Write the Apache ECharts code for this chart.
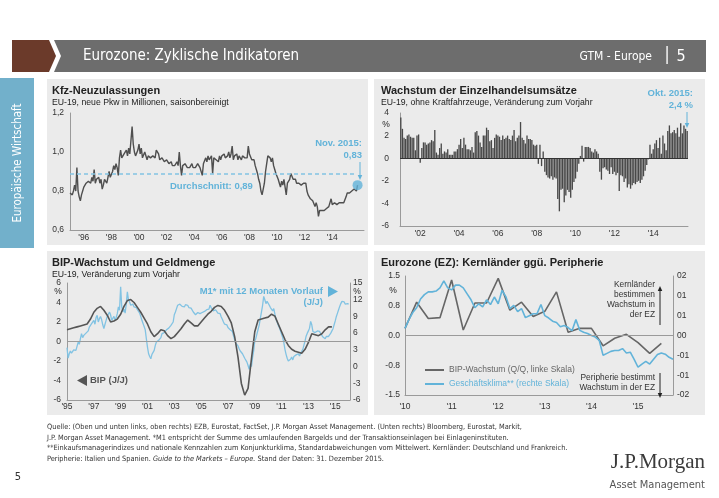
<!DOCTYPE html>
<html><head><meta charset="utf-8">
<script src="https://cdn.jsdelivr.net/npm/echarts@6/dist/echarts.min.js"></script>
<style>html,body{margin:0;padding:0;background:#fff;}#c{width:719px;height:498px;}</style>
</head><body><div id="c"></div>
<script>
// ---------- DATA ----------
// Kfz-Neuzulassungen, monthly Jan 1995 - Nov 2015 (Mio.)
const kfzStart = 1995;
const kfzValues = [
0.79,0.78,0.78,0.80,0.83,0.80,0.92,0.80,0.77,0.75,0.78,0.80,
0.82,0.83,0.84,0.83,0.85,0.86,0.84,0.87,0.85,0.91,0.84,0.86,
0.85,0.87,0.84,0.86,0.81,0.83,0.86,0.85,0.84,0.87,0.90,0.87,
0.86,0.90,0.93,0.91,0.94,0.92,0.88,0.97,1.01,0.97,0.98,0.99,
0.98,1.01,0.98,1.02,0.99,1.00,1.13,1.04,1.00,0.98,0.97,1.01,
1.04,0.99,1.02,0.97,0.96,1.00,1.01,0.96,0.98,0.99,0.97,0.96,
0.98,0.99,0.97,1.01,1.00,0.99,0.96,0.95,0.97,0.96,0.95,0.95,
0.96,0.95,0.94,0.94,0.95,0.93,0.94,0.93,0.92,0.95,0.93,1.00,
0.93,0.88,0.93,0.92,0.94,0.93,0.92,0.93,0.92,0.93,0.94,0.92,
0.93,0.92,0.93,0.94,0.93,0.92,0.93,0.88,0.94,0.95,0.97,0.95,
0.98,0.96,0.95,0.98,0.89,0.97,0.98,0.96,0.97,0.95,0.98,0.96,
0.98,0.97,0.99,0.97,0.96,0.98,1.00,0.97,0.99,1.03,0.96,0.98,
0.97,0.99,0.96,0.98,0.97,0.96,0.98,0.99,0.97,0.98,0.97,1.03,
0.99,0.98,0.96,0.95,0.96,0.93,0.91,0.89,0.86,0.84,0.80,0.78,
0.79,0.84,0.90,0.94,0.98,0.99,0.97,0.95,0.97,0.93,0.91,0.89,
0.90,0.86,0.84,0.82,0.85,0.83,0.86,0.82,0.78,0.84,0.85,0.86,
0.89,0.88,0.86,0.85,0.86,0.84,0.85,0.84,0.84,0.83,0.84,0.84,
0.83,0.84,0.80,0.78,0.79,0.76,0.77,0.75,0.74,0.72,0.74,0.72,
0.67,0.70,0.69,0.70,0.71,0.70,0.71,0.71,0.72,0.72,0.72,0.76,
0.73,0.73,0.74,0.74,0.73,0.74,0.74,0.74,0.74,0.75,0.74,0.75,
0.77,0.79,0.79,0.79,0.80,0.80,0.80,0.81,0.81,0.80,0.83];
const kfzAverage = 0.89;
const kfzYearTicks = [1996,1998,2000,2002,2004,2006,2008,2010,2012,2014];

// Einzelhandelsumsätze, monthly Jan 2001 - Oct 2015 (% J/J)
const retailStartYear = 2001;
const retailValues = [
3.6,2.6,1.8,1.7,2.0,2.1,1.9,1.8,1.8,0.7,2.0,2.1,
-0.4,0.9,1.4,1.4,1.2,1.3,1.4,1.6,1.5,2.5,0.5,0.3,
0.9,1.3,0.4,0.6,0.5,0.8,0.3,0.3,0.3,0.6,0.6,0.8,
1.2,1.7,0.9,1.8,1.2,0.8,0.8,0.7,1.0,0.5,2.3,2.4,
2.0,1.4,1.0,2.0,2.0,2.7,2.5,1.5,1.6,0.9,1.8,2.1,
2.0,1.9,1.6,2.0,1.7,1.8,2.0,1.7,1.6,2.0,2.5,1.5,
1.8,2.0,3.2,1.8,1.6,1.3,2.0,1.7,1.7,1.6,1.2,1.1,
1.2,-0.5,1.2,-0.7,0.6,-1.2,-1.5,-1.7,-1.8,-1.6,-1.9,-1.7,
-1.8,-3.6,-4.7,-2.8,-2.7,-3.9,-3.3,-2.8,-3.0,-3.5,-2.8,-2.1,
-1.8,-1.2,-0.5,0.2,1.1,-0.3,1.0,1.0,1.0,0.9,0.6,0.5,
0.8,0.6,0.4,-1.2,-1.9,-0.9,-0.8,-1.0,-1.1,-1.4,-0.8,-1.4,
-1.2,-1.5,-1.3,-2.9,-1.5,-1.6,-2.1,-1.8,-2.6,-2.3,-2.7,-2.4,
-2.2,-2.3,-2.1,-2.0,-2.2,-1.9,-1.6,-1.1,-0.6,-0.1,1.2,0.4,
0.8,1.3,1.6,0.9,1.8,0.4,2.0,1.3,0.7,2.4,2.9,2.2,
2.3,2.5,2.2,2.7,1.9,3.1,2.2,2.9,2.6,2.4];

// BIP J/J, quarterly 1995 Q1 - 2014 Q4 (linke Skala)
const bipStart = 1995;
const bipValues = [
1.2,1.3,1.4,1.5, 1.6,1.7,1.8,2.3, 3.0,3.4,3.6,3.2, 2.7,2.0,2.1,2.3,
2.8,3.6,4.2,4.3, 4.0,3.5,3.0,2.4, 1.8,1.0,0.5,0.8, 1.2,1.1,0.6,0.3,
0.5,0.9,1.3,1.8, 2.2,1.9,1.6,1.6, 2.0,2.4,2.8,3.1, 3.5,3.7,3.6,3.2,
2.6,1.9,0.5,-1.6, -4.3,-5.5,-4.8,-1.8, 1.0,2.2,2.3,2.4, 2.5,2.8,2.6,1.8,
1.0,0.2,-0.4,-0.8, -1.0,-1.1,-1.2,-0.8, -0.1,0.8,0.7,0.6, 0.8,1.2,1.5,1.5];

// M1 J/J mit 12 Monaten Vorlauf, monthly 1995 - Jan 2016 (rechte Skala)
const m1Start = 1995;
const m1Values = [
3.4,1.5,2.3,2.8,2.4,2.6,3.0,2.7,2.9,3.2,4.4,4.0,
5.0,5.9,5.2,5.6,5.4,6.0,5.7,6.4,7.1,6.8,7.7,7.4,
8.3,7.6,8.8,9.2,8.0,8.6,9.0,8.4,7.5,6.8,7.6,8.3,
9.0,8.7,9.8,9.3,8.3,8.0,9.0,8.4,8.8,9.5,10.7,10.1,
14.3,10.7,9.8,10.3,9.6,11.2,13.4,12.0,11.6,11.0,10.8,11.2,
10.7,10.4,10.6,10.2,10.3,9.6,9.0,8.3,8.0,7.2,6.6,5.0,
3.5,2.3,1.8,1.4,2.2,1.9,2.9,3.8,4.4,4.2,4.7,4.9,
5.2,5.9,5.6,6.1,6.3,6.6,6.3,6.9,7.1,7.4,7.1,8.0,
9.3,9.8,10.4,11.0,10.7,11.2,10.9,10.8,11.0,10.7,11.1,10.8,
11.0,10.6,10.8,10.5,10.3,9.8,9.6,9.3,9.2,9.7,9.4,9.5,
9.3,9.7,9.5,9.9,10.0,10.2,10.5,10.3,11.0,10.6,10.4,10.0,
9.8,10.2,9.9,9.6,9.4,9.5,8.9,8.5,8.0,7.6,7.3,7.5,
7.0,6.8,6.6,6.9,6.3,5.5,4.8,4.2,3.9,3.7,3.2,2.8,
2.5,2.3,2.1,1.5,1.2,0.8,0.2,-0.5,0.5,0.0,1.6,2.8,
4.6,5.1,5.9,6.7,7.5,8.7,9.8,11.0,12.6,12.0,11.3,11.7,
11.4,11.0,10.6,10.3,10.0,10.4,9.4,8.5,8.0,7.4,7.0,6.4,
5.8,5.2,4.3,3.1,2.2,1.5,1.0,0.9,1.3,1.7,1.2,1.8,
1.5,2.1,1.8,2.3,1.9,2.4,2.2,3.1,3.3,4.6,5.5,6.0,
6.4,6.9,8.1,7.5,6.3,6.5,6.1,6.0,6.4,6.2,6.3,5.9,
5.6,5.3,5.1,5.0,5.4,5.2,5.4,5.7,6.0,6.4,6.8,7.5,
8.2,9.0,9.6,10.2,10.8,11.3,11.7,11.4,11.6,11.2,11.0,11.3,
11.2];
const bipYearTicks = [1995,1997,1999,2001,2003,2005,2007,2009,2011,2013,2015];

// Kernländer ggü. Peripherie
const gdpDiffStart = 2010; // quarterly Q1 2010 - Q3 2015
const gdpDiffValues = [0.18,0.84,0.43,0.45,1.40,0.14,0.82,0.82,1.44,0.64,0.84,0.48,
0.61,1.10,0.08,0.18,0.18,-0.26,-0.07,0.03,-0.18,-0.45,-0.20];
const climateStart = 2010; // monthly Jan 2010 - Oct 2015
const climateValues = [
0.18,0.40,0.58,0.70,0.92,1.03,1.10,1.10,1.12,1.20,1.38,1.20,
1.15,1.27,1.27,1.20,1.05,0.90,0.70,0.80,0.72,0.90,0.78,0.97,
0.80,1.14,0.97,0.68,0.76,0.60,0.68,0.45,0.50,0.55,0.55,0.78,
0.50,0.44,0.36,0.33,0.22,0.25,0.20,0.12,0.40,0.13,0.08,0.05,
0.00,-0.04,-0.12,-0.50,-0.45,-0.40,-0.38,-0.38,-0.33,-0.44,-0.42,-0.60,
-0.80,-0.72,-0.65,-0.72,-0.60,-0.48,-0.44,-0.47,-0.55,-0.60];
const ezYearTicks = [2010,2011,2012,2013,2014,2015];
const ezLeftLabels = ['-1.5','-0.8','0.0','0.8','1.5'];
const ezRightLabels = ['-02','-01','-01','00','01','01','02'];

// ---------- BUILD ----------
const F = '"Liberation Sans", Arial, sans-serif';
const FN = '"Liberation Sans Narrow", "DejaVu Sans Condensed", "Liberation Sans", sans-serif';
const BLUE = '#62b3d9';
const LBLUE = '#82c3e3';
const DARK = '#555555';
const AXC = '#9a9a9a';

const monthly = (start, arr) => arr.map((v, i) => [start + i / 12, v]);
const quarterly = (start, arr) => arr.map((v, i) => [start + i / 4, v]);
const kfzData = monthly(kfzStart, kfzValues);
const kfzLast = kfzData[kfzData.length - 1];
const retailCats = retailValues.map((v, i) => (retailStartYear + Math.floor(i / 12)) + '-' + String(i % 12 + 1).padStart(2, '0'));
const yr = v => "'" + String(v).slice(2, 4);

const lblStyle = { color: '#333', fontSize: 8.5, fontFamily: F };

const chart = echarts.init(document.getElementById('c'), null, { renderer: 'canvas' });

const G = [];
function rect(x, y, w, h, fill, z) { G.push({ type: 'rect', z: z ?? -5, shape: { x, y, width: w, height: h }, style: { fill } }); }
function txt(x, y, text, o) {
  o = o || {};
  G.push({ type: 'text', z: 50, x, y, rotation: o.rotation || 0,
    style: { text, fill: o.fill || '#222', font: o.font || ('9px ' + F), textAlign: o.align || 'left', textVerticalAlign: o.valign || 'middle', rich: o.rich, lineHeight: o.lineHeight } });
}
function vArrow(x, y1, y2, color, head) {
  const d = y2 > y1 ? 1 : -1;
  G.push({ type: 'line', z: 50, shape: { x1: x, y1, x2: x, y2: y2 - d * head * 0.8 }, style: { stroke: color, lineWidth: 1 } });
  G.push({ type: 'polygon', z: 50, shape: { points: [[x - head * 0.45, y2 - d * head], [x + head * 0.45, y2 - d * head], [x, y2]] }, style: { fill: color } });
}

// header
G.push({ type: 'polygon', z: 1, shape: { points: [[12, 40], [49, 40], [56, 56], [49, 72], [12, 72]] }, style: { fill: '#6b3a2a' } });
G.push({ type: 'polygon', z: 1, shape: { points: [[54, 40], [706, 40], [706, 72], [54, 72], [61, 56]] }, style: { fill: '#6d6d6d' } });
txt(83, 56.5, 'Eurozone: Zyklische Indikatoren', { fill: '#fff', font: '15px ' + FN });
txt(652, 56.5, 'GTM - Europe', { fill: '#fff', font: '12px ' + FN, align: 'right' });
txt(667, 56, '|', { fill: '#fff', font: '17px ' + FN, align: 'center' });
txt(681, 56.5, '5', { fill: '#fff', font: '16px ' + FN, align: 'center' });
// sidebar
rect(0, 78, 34, 170, '#72b0cb', 1);
txt(18, 163, 'Europäische Wirtschaft', { fill: '#fff', font: '11.5px ' + FN, align: 'center', rotation: Math.PI / 2 });
// panels
rect(47, 79, 321, 166, '#ebebeb');
rect(374, 79, 331, 166, '#ebebeb');
rect(47, 251, 321, 164, '#ebebeb');
rect(374, 251, 331, 164, '#ebebeb');
// titles
const TF = 'bold 11px ' + F, SF = '8.7px ' + F;
txt(52, 90.5, 'Kfz-Neuzulassungen', { font: TF });
txt(52, 102.5, 'EU-19, neue Pkw in Millionen, saisonbereinigt', { font: SF });
txt(381, 90.5, 'Wachstum der Einzelhandelsumsätze', { font: TF });
txt(381, 102.5, 'EU-19, ohne Kraftfahrzeuge, Veränderung zum Vorjahr', { font: SF });
txt(52, 262.5, 'BIP-Wachstum und Geldmenge', { font: TF });
txt(52, 274.5, 'EU-19, Veränderung zum Vorjahr', { font: SF });
txt(381, 262.5, 'Eurozone (EZ): Kernländer ggü. Peripherie', { font: TF });
// % labels
txt(386, 124.5, '%', { font: '8.5px ' + F, align: 'center' });
txt(58, 291.5, '%', { font: '8.5px ' + F, align: 'center' });
txt(357, 291.5, '%', { font: '8.5px ' + F, align: 'center' });
txt(393, 290.5, '%', { font: '8.5px ' + F, align: 'center' });
// annotations top-left
txt(362, 143.5, 'Nov. 2015:', { fill: BLUE, font: 'bold 9.5px ' + F, align: 'right' });
txt(362, 155.5, '0,83', { fill: BLUE, font: 'bold 9.5px ' + F, align: 'right' });
vArrow(360, 162, 180, BLUE, 5);
txt(170, 186.5, 'Durchschnitt: 0,89', { fill: BLUE, font: 'bold 9.5px ' + F });
// annotations top-right
txt(693, 93, 'Okt. 2015:', { fill: BLUE, font: 'bold 9.5px ' + F, align: 'right' });
txt(693, 105.5, '2,4 %', { fill: BLUE, font: 'bold 9.5px ' + F, align: 'right' });
vArrow(687, 112, 128, BLUE, 5);
// annotations bottom-left
txt(323, 291.5, 'M1* mit 12 Monaten Vorlauf', { fill: BLUE, font: 'bold 9.5px ' + F, align: 'right' });
txt(323, 302, '(J/J)', { fill: BLUE, font: 'bold 9.5px ' + F, align: 'right' });
G.push({ type: 'polygon', z: 50, shape: { points: [[328, 286], [338, 291.5], [328, 297]] }, style: { fill: BLUE } });
G.push({ type: 'polygon', z: 50, shape: { points: [[87, 375], [77, 380.5], [87, 386]] }, style: { fill: '#555' } });
txt(90, 380.5, 'BIP (J/J)', { fill: '#555', font: 'bold 9.5px ' + F });
// annotations bottom-right
txt(655, 299.5, 'Kernländer\nbestimmen\nWachstum in\nder EZ', { fill: '#333', font: '8.4px ' + F, align: 'right', lineHeight: 10 });
vArrow(660, 325, 286, '#222', 5);
txt(655, 382.5, 'Peripherie bestimmt\nWachstum in der EZ', { fill: '#333', font: '8.4px ' + F, align: 'right', lineHeight: 10.5 });
vArrow(660, 373, 398, '#222', 5);
// footer
const FF = '7.35px ' + FN;
txt(47, 427.5, 'Quelle: (Oben und unten links, oben rechts) EZB, Eurostat, FactSet, J.P. Morgan Asset Management. (Unten rechts) Bloomberg, Eurostat, Markit,', { font: FF, fill: '#333' });
txt(47, 438, 'J.P. Morgan Asset Management. *M1 entspricht der Summe des umlaufenden Bargelds und der Transaktionseinlagen bei Einlageninstituten.', { font: FF, fill: '#333' });
txt(47, 448.5, '**Einkaufsmanagerindizes und nationale Kennzahlen zum Konjunkturklima, Standardabweichungen vom Mittelwert. Kernländer: Deutschland und Frankreich.', { font: FF, fill: '#333' });
G.push({ type: 'text', z: 50, x: 47, y: 459, style: { text: 'Peripherie: Italien und Spanien. {i|Guide to the Markets – Europe.} Stand der Daten: 31. Dezember 2015.', fill: '#333', font: FF, textVerticalAlign: 'middle', rich: { i: { fontStyle: 'italic', fontSize: 7.35, fontFamily: FN, fill: '#333' } } } });
txt(18, 477, '5', { font: '11px ' + FN, fill: '#333', align: 'center' });
txt(705, 462, 'J.P.Morgan', { font: '21px "Liberation Serif", "DejaVu Serif", serif', fill: '#3a3a3a', align: 'right' });
txt(705, 485, 'Asset Management', { font: '11px ' + FN, fill: '#555', align: 'right' });

const hidden = { show: false };
const option = {
  animation: false,
  backgroundColor: '#fff',
  textStyle: { fontFamily: F },
  graphic: { elements: G },
  legend: {
    left: 420, top: 360, orient: 'vertical', itemWidth: 19, itemHeight: 2, itemGap: 4, icon: 'rect',
    textStyle: { fontSize: 8.5, fontFamily: F, lineHeight: 10 },
    data: [
      { name: 'BIP-Wachstum (Q/Q, linke Skala)', textStyle: { color: '#666' } },
      { name: 'Geschäftsklima** (rechte Skala)', textStyle: { color: BLUE } }
    ]
  },
  grid: [
    { left: 70, top: 113, width: 294, height: 117 },
    { left: 400, top: 113, width: 288, height: 113 },
    { left: 67, top: 283, width: 283, height: 117 },
    { left: 405, top: 276, width: 268, height: 119 }
  ],
  xAxis: [
    { type: 'value', gridIndex: 0, min: 1995, max: 2016.3, splitLine: hidden,
      axisLine: { lineStyle: { color: AXC } }, axisTick: hidden,
      axisLabel: Object.assign({ customValues: kfzYearTicks, formatter: yr, margin: 3 }, lblStyle) },
    { type: 'category', gridIndex: 1, data: retailCats, splitLine: hidden,
      axisLine: { onZero: false, lineStyle: { color: AXC } }, axisTick: hidden,
      axisLabel: Object.assign({ interval: (i, v) => v.endsWith('-01') && (+v.slice(0, 4)) % 2 === 0, formatter: v => yr(v.slice(0, 4)), margin: 3 }, lblStyle) },
    { type: 'value', gridIndex: 2, min: 1995, max: 2016.1, splitLine: hidden,
      axisLine: { onZero: false, lineStyle: { color: AXC } }, axisTick: hidden,
      axisLabel: Object.assign({ customValues: bipYearTicks, formatter: yr, margin: 2 }, lblStyle) },
    { type: 'value', gridIndex: 3, min: 2010, max: 2015.75, splitLine: hidden,
      axisLine: { onZero: false, lineStyle: { color: AXC } }, axisTick: hidden,
      axisLabel: Object.assign({ customValues: ezYearTicks, formatter: yr, margin: 7 }, lblStyle) }
  ],
  yAxis: [
    { type: 'value', gridIndex: 0, min: 0.6, max: 1.2, interval: 0.2, splitLine: hidden,
      axisLine: { show: true, lineStyle: { color: AXC } }, axisTick: hidden,
      axisLabel: Object.assign({ formatter: v => v.toFixed(1).replace('.', ','), margin: 6 }, lblStyle) },
    { type: 'value', gridIndex: 1, min: -6, max: 4, interval: 2, splitLine: hidden,
      axisLine: { show: true, onZero: false, lineStyle: { color: AXC } }, axisTick: hidden,
      axisLabel: Object.assign({ margin: 11 }, lblStyle) },
    { type: 'value', gridIndex: 2, min: -6, max: 6, interval: 2, splitLine: hidden,
      axisLine: { show: true, onZero: false, lineStyle: { color: AXC } }, axisTick: hidden,
      axisLabel: Object.assign({ margin: 6 }, lblStyle) },
    { type: 'value', gridIndex: 2, position: 'right', min: -6, max: 15, interval: 3, splitLine: hidden,
      axisLine: { show: true, onZero: false, lineStyle: { color: AXC } }, axisTick: hidden,
      axisLabel: Object.assign({ margin: 3 }, lblStyle) },
    { type: 'value', gridIndex: 3, min: -1.5, max: 1.5, interval: 0.75, splitLine: hidden,
      axisLine: { show: true, onZero: false, lineStyle: { color: AXC } }, axisTick: hidden,
      axisLabel: Object.assign({ formatter: v => ezLeftLabels[Math.round((v + 1.5) / 0.75)], margin: 5 }, lblStyle) },
    { type: 'value', gridIndex: 3, position: 'right', min: -1.5, max: 1.5, interval: 0.5, splitLine: hidden,
      axisLine: { show: true, onZero: false, lineStyle: { color: AXC } }, axisTick: hidden,
      axisLabel: Object.assign({ formatter: v => ezRightLabels[Math.round((v + 1.5) / 0.5)], margin: 4 }, lblStyle) }
  ],
  series: [
    { name: 'Kfz', type: 'line', xAxisIndex: 0, yAxisIndex: 0, data: kfzData, showSymbol: false, symbol: 'none',
      lineStyle: { color: '#4f4f4f', width: 1.4 }, itemStyle: { color: DARK }, z: 3,
      markLine: { silent: true, symbol: 'none', label: { show: false },
        lineStyle: { color: LBLUE, type: [4, 3], width: 1.5 },
        data: [[{ coord: [kfzStart, kfzAverage] }, { coord: [kfzLast[0] - 0.1, kfzAverage] }]] } },
    { name: 'KfzLast', type: 'scatter', xAxisIndex: 0, yAxisIndex: 0, data: [kfzLast], symbolSize: 10,
      itemStyle: { color: BLUE }, z: 4 },
    { name: 'Einzelhandel', type: 'bar', xAxisIndex: 1, yAxisIndex: 1, data: retailValues, barWidth: '82%',
      itemStyle: { color: '#484848' },
      markLine: { silent: true, symbol: 'none', label: { show: false }, lineStyle: { color: '#333', type: 'solid', width: 1 },
        data: [{ yAxis: 0 }] } },
    { name: 'M1', type: 'line', xAxisIndex: 2, yAxisIndex: 3, data: monthly(m1Start, m1Values), showSymbol: false, symbol: 'none',
      lineStyle: { color: LBLUE, width: 1.3 }, itemStyle: { color: LBLUE }, z: 3 },
    { name: 'BIP', type: 'line', xAxisIndex: 2, yAxisIndex: 2, data: quarterly(bipStart, bipValues), showSymbol: false, symbol: 'none',
      lineStyle: { color: DARK, width: 1.6 }, itemStyle: { color: DARK }, z: 4,
      markLine: { silent: true, symbol: 'none', label: { show: false }, lineStyle: { color: AXC, type: 'solid', width: 1 },
        data: [{ yAxis: 0 }] } },
    { name: 'BIP-Wachstum (Q/Q, linke Skala)', type: 'line', xAxisIndex: 3, yAxisIndex: 4, data: quarterly(gdpDiffStart, gdpDiffValues),
      showSymbol: false, symbol: 'none', lineStyle: { color: '#666', width: 1.6 }, itemStyle: { color: '#666' }, z: 3,
      markLine: { silent: true, symbol: 'none', label: { show: false }, lineStyle: { color: AXC, type: 'solid', width: 1 },
        data: [{ yAxis: 0 }] } },
    { name: 'Geschäftsklima** (rechte Skala)', type: 'line', xAxisIndex: 3, yAxisIndex: 5, data: monthly(climateStart, climateValues),
      showSymbol: false, symbol: 'none', lineStyle: { color: BLUE, width: 1.6 }, itemStyle: { color: BLUE }, z: 4 }
  ]
};
chart.setOption(option);
</script></body></html>
